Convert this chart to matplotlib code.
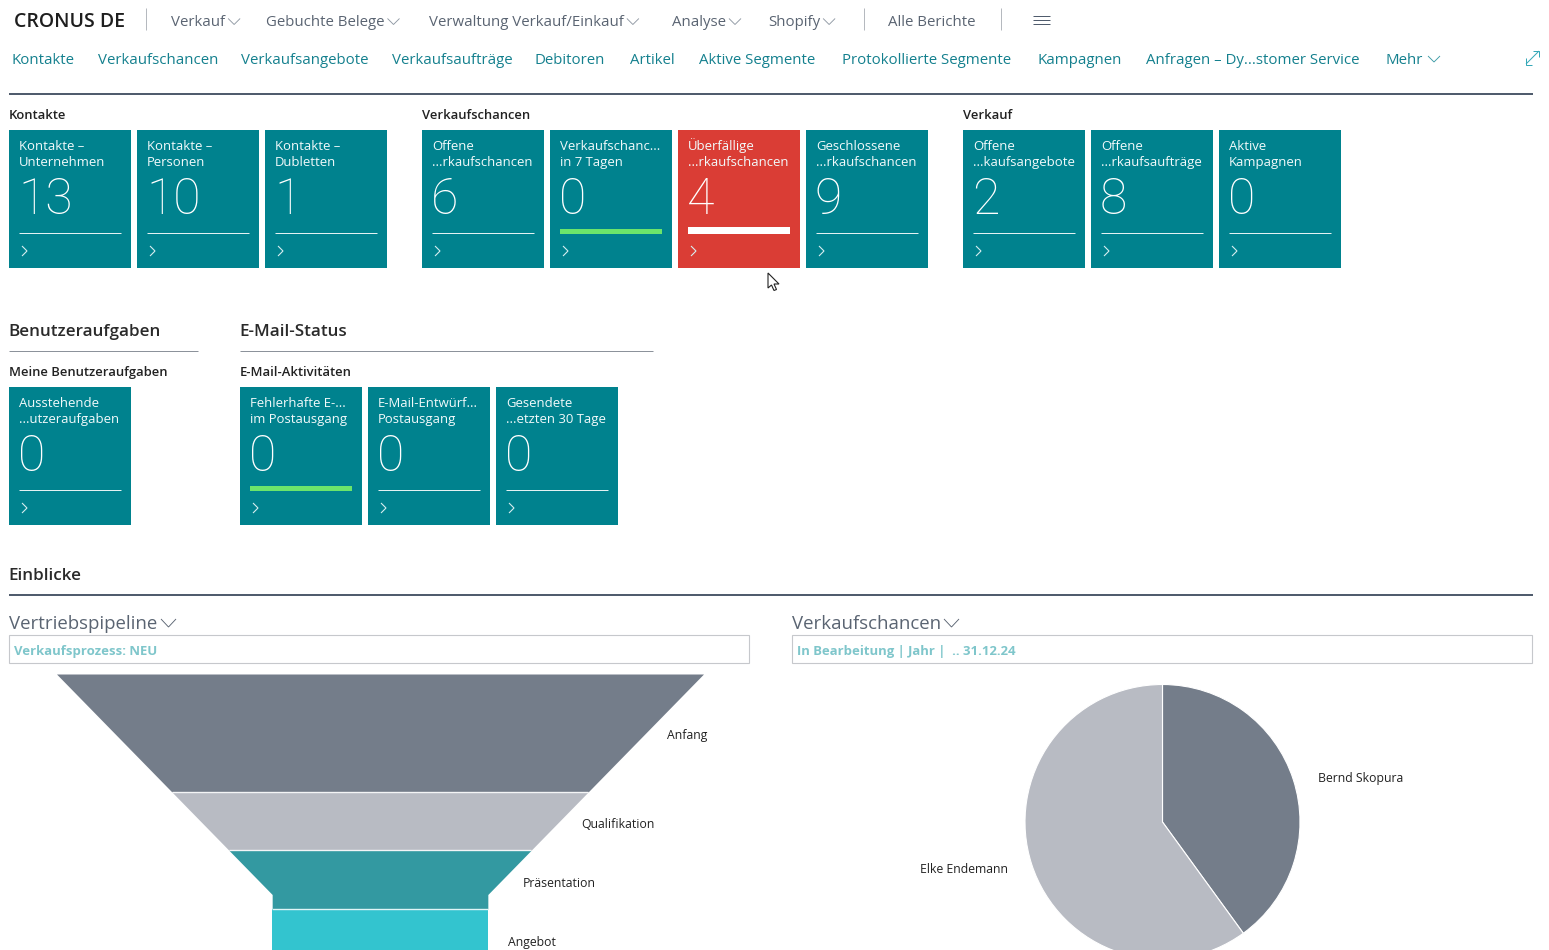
import matplotlib
matplotlib.use("Agg")
import matplotlib.pyplot as plt
import numpy as np
from matplotlib.patches import Rectangle, Polygon

plt.rcParams['font.family'] = ['Open Sans', 'DejaVu Sans']

W, H = 1549, 950

TEAL = "#00828E"
RED = "#DA3D35"
GREEN = "#6BE56B"
SLATE = "#505C6D"
NAV_TEAL = "#14808E"
GRAY_DARK = "#747D8A"
GRAY_LIGHT = "#B8BBC3"

# navigation
menu_labels = ["Verkauf", "Gebuchte Belege", "Verwaltung Verkauf/Einkauf", "Analyse", "Shopify"]
menu_x = [171, 266, 429, 672, 768]
link_labels = ["Kontakte", "Verkaufschancen", "Verkaufsangebote", "Verkaufsaufträge", "Debitoren",
               "Artikel", "Aktive Segmente", "Protokollierte Segmente", "Kampagnen",
               "Anfragen – Dy...stomer Service", "Mehr"]
link_x = [12, 98.5, 241, 392, 535, 630, 699, 842.5, 1037.5, 1146, 1386]

# tiles
kontakte_titles = ["Kontakte –\nUnternehmen", "Kontakte –\nPersonen", "Kontakte –\nDubletten"]
kontakte_values = [13, 10, 1]
chancen_titles = ["Offene\n...rkaufschancen", "Verkaufschanc...\nin 7 Tagen",
                  "Überfällige\n...rkaufschancen", "Geschlossene\n...rkaufschancen"]
chancen_values = [6, 0, 4, 9]
chancen_status = ["", "ok", "alert", ""]
verkauf_titles = ["Offene\n...kaufsangebote", "Offene\n...rkaufsaufträge", "Aktive\nKampagnen"]
verkauf_values = [2, 8, 0]
aufgaben_titles = ["Ausstehende\n...utzeraufgaben"]
aufgaben_values = [0]
email_titles = ["Fehlerhafte E-...\nim Postausgang", "E-Mail-Entwürf...\nPostausgang",
                "Gesendete\n...etzten 30 Tage"]
email_values = [0, 0, 0]
email_status = ["ok", "", ""]

# charts
funnel_stages = ["Anfang", "Qualifikation", "Präsentation", "Angebot"]
funnel_values = [2, 1, 1, 1]
funnel_colors = [GRAY_DARK, GRAY_LIGHT, "#3399A1", "#33C4CF"]
funnel_label_x = [667, 581, 523, 508]
funnel_label_y = [735.5, 824.5, 883.5, 942.5]
neck_width = 1 / 3
neck_height = 0.75

pie_names = ["Bernd Skopura", "Elke Endemann"]
pie_values = [40, 60]

fig = plt.figure(figsize=(W / 100, H / 100), dpi=100, facecolor="white")
ax = fig.add_axes([0, 0, 1, 1])
ax.set_xlim(0, W)
ax.set_ylim(H, 0)
ax.axis("off")


def px(size):
    return size * 0.72


def label(x, y, s, size=15, color="#222222", weight="normal", **kw):
    ax.text(x, y, s, fontsize=px(size), color=color, fontweight=weight, va="baseline", ha="left", **kw)


def line(xs, ys, color, width=1.0):
    ax.plot(xs, ys, color=color, lw=px(width), solid_capstyle="butt", solid_joinstyle="miter")


def chevron_down(x, y, color, w=12, h=6):
    line([x, x + w / 2, x + w], [y, y + h, y], color, 0.9)


def chevron_right(x, y, color):
    line([x, x + 5, x], [y, y + 5, y + 10], color, 1.1)


def tile(x, y, title, value, status=""):
    fc = RED if status == "alert" else TEAL
    ax.add_patch(Rectangle((x, y), 122, 138, fc=fc, ec="none"))
    first, second = title.split("\n")
    label(x + 10, y + 20, first, 13.1, "#F2FAFB")
    label(x + 10, y + 36, second, 13.1, "#F2FAFB")
    ax.text(x + 9, y + 84, str(value), fontsize=px(50), color="white",
            family=["Roboto", "Open Sans"], fontweight="light", va="baseline", ha="left")
    if status == "":
        line([x + 10, x + 112], [y + 103, y + 103], "#E4F2F3", 1)
    elif status == "ok":
        ax.add_patch(Rectangle((x + 10, y + 99), 102, 5, fc=GREEN, ec="none"))
    else:
        ax.add_patch(Rectangle((x + 10, y + 97), 102, 7, fc="white", ec="none"))
    chevron_right(x + 13, y + 116, "#D8EEF0")


def tile_group(x, y, titles, values, status=None):
    status = status or [""] * len(values)
    for i in range(len(values)):
        tile(x + i * 128, y, titles[i], values[i], status[i])


# top navigation
label(14, 27, "CRONUS DE", 19.5, "#1E1E1E", "semibold")
for sx in (146, 864, 1001):
    line([sx, sx], [8, 30], "#B5B9BF", 1)
for s, x in zip(menu_labels, menu_x):
    t = ax.text(x, 26, s, fontsize=px(15), color="#5A6472", va="baseline", ha="left")
    box = t.get_window_extent(fig.canvas.get_renderer())
    chevron_down(box.x1 + 3, 18.5, "#8F98A3")
label(888.5, 26, "Alle Berichte", 15, "#5A6472")
for hy in (15.5, 19.5, 23.5):
    line([1033, 1050], [hy, hy], SLATE, 1)

for s, x in zip(link_labels, link_x):
    label(x, 64, s, 15.05, NAV_TEAL)
chevron_down(1428, 56, "#3B9AA6")
line([1526, 1539], [64, 51], "#35A8B8", 1)
line([1526, 1526, 1532], [58, 64.5, 64.5], "#35A8B8", 1)
line([1533, 1539.5, 1539.5], [51, 51, 57], "#35A8B8", 1)

line([9, 1533], [94, 94], SLATE, 2)

# tile sections
label(9, 119, "Kontakte", 13, "#222222", "semibold")
label(422, 119, "Verkaufschancen", 13, "#222222", "semibold")
label(963, 119, "Verkauf", 13, "#222222", "semibold")
tile_group(9, 130, kontakte_titles, kontakte_values)
tile_group(422, 130, chancen_titles, chancen_values, chancen_status)
tile_group(963, 130, verkauf_titles, verkauf_values)

# mouse cursor
ax.add_patch(Polygon([(768, 273), (768, 288), (771.5, 285), (774, 290.5), (776.5, 289.5),
                      (774, 284), (779, 284)], closed=True, fc="white", ec="#222222", lw=0.8))

label(8.5, 335.5, "Benutzeraufgaben", 17, "#2A2A2A", "semibold")
label(239.5, 335.5, "E-Mail-Status", 17, "#2A2A2A", "semibold")
line([9, 198], [351, 351], "#8C929B", 1)
line([240, 653], [351, 351], "#8C929B", 1)
label(9, 376, "Meine Benutzeraufgaben", 13, "#222222", "semibold")
label(240, 376, "E-Mail-Aktivitäten", 13, "#222222", "semibold")
tile_group(9, 387, aufgaben_titles, aufgaben_values)
tile_group(240, 387, email_titles, email_values, email_status)

label(8.5, 579.5, "Einblicke", 17, "#2A2A2A", "semibold")
line([9, 1533], [595, 595], SLATE, 2)

# chart headers
for x0, title, crit, cx in ((9, "Vertriebspipeline", "Verkaufsprozess: NEU", 161),
                            (792, "Verkaufschancen", "In Bearbeitung | Jahr |  .. 31.12.24", 944)):
    label(x0, 629, title, 18.7, "#5A6472")
    chevron_down(cx, 619, "#5A6472", 15, 8)
    ax.add_patch(Rectangle((x0 + 0.5, 635), 740, 28, fc="white", ec="#C6C8CC", lw=0.8))
    label(x0 + 5, 655, crit, 13.1, "#7FC6CB", "bold")

# funnel, full height 294 px of which the screenshot shows 276
fax = fig.add_axes([56.5 / W, 0, 647 / W, (950 - 674) / H])
fax.set_xlim(-0.5, 0.5)
fax.set_ylim(276 / 294, 0)
fax.axis("off")
edges = np.concatenate([[0], np.cumsum(funnel_values)]) / sum(funnel_values)
for i, c in enumerate(funnel_colors):
    f = np.array(sorted({edges[i], edges[i + 1]} | ({neck_height} if edges[i] < neck_height < edges[i + 1] else set())))
    w = np.maximum(1 - (1 - neck_width) * f / neck_height, neck_width)
    fax.fill_betweenx(f, -w / 2, w / 2, color=c, lw=0)
    if i > 0:
        fax.plot([-w[0] / 2, w[0] / 2], [f[0], f[0]], color="white", lw=1, alpha=0.85, solid_capstyle="butt")
for s, x, y in zip(funnel_stages, funnel_label_x, funnel_label_y):
    ax.text(x, y, s, fontsize=px(12.2), color="#222222", va="center", ha="left")

# pie, radius 137.5 px around (1162.5, 822)
pax = fig.add_axes([1025 / W, 0, 275 / W, (950 - 684.5) / H])
pax.pie(pie_values, startangle=90, counterclock=False, colors=[GRAY_DARK, GRAY_LIGHT], radius=1,
        wedgeprops={"edgecolor": "white", "linewidth": 0.8})
pax.set_xlim(-1, 1)
pax.set_ylim(-128 / 137.5, 1)
pax.set_aspect("auto")
ax.text(1318, 778.5, pie_names[0], fontsize=px(12.2), color="#222222", va="center", ha="left")
ax.text(920, 869.5, pie_names[1], fontsize=px(12.2), color="#222222", va="center", ha="left")

fig.savefig("out.png", dpi=100, facecolor="white")
